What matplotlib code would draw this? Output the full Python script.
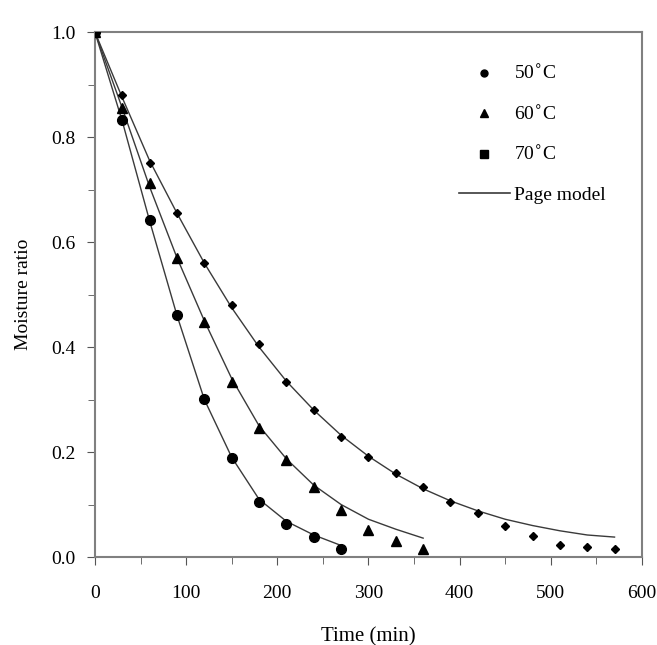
import matplotlib
matplotlib.use('Agg')
import matplotlib.pyplot as plt
from matplotlib.lines import Line2D
from matplotlib.ticker import MultipleLocator

plt.rcParams['font.family'] = ['Liberation Serif', 'DejaVu Serif']

# measured points (every 30 min)
t50 = [0, 30, 60, 90, 120, 150, 180, 210, 240, 270, 300, 330, 360, 390, 420, 450, 480, 510, 540, 570]
mr50 = [1.0, 0.88, 0.75, 0.655, 0.56, 0.48, 0.405, 0.334, 0.28, 0.229, 0.19, 0.16, 0.133, 0.105, 0.083, 0.059, 0.040, 0.022, 0.019, 0.016]

t60 = [0, 30, 60, 90, 120, 150, 180, 210, 240, 270, 300, 330, 360]
mr60 = [1.0, 0.855, 0.712, 0.57, 0.448, 0.334, 0.245, 0.185, 0.134, 0.09, 0.051, 0.03, 0.016]

t70 = [0, 30, 60, 90, 120, 150, 180, 210, 240, 270]
mr70 = [1.0, 0.832, 0.642, 0.461, 0.302, 0.188, 0.105, 0.063, 0.038, 0.015]

# Page model curves
m50 = [1.0, 0.875, 0.755, 0.655, 0.56, 0.475, 0.40, 0.335, 0.28, 0.232, 0.192, 0.158, 0.13, 0.107, 0.088, 0.072, 0.06, 0.05, 0.042, 0.038]
m60 = [1.0, 0.855, 0.705, 0.57, 0.45, 0.34, 0.25, 0.187, 0.137, 0.1, 0.072, 0.053, 0.036]
m70 = [1.0, 0.83, 0.64, 0.46, 0.30, 0.19, 0.11, 0.068, 0.042, 0.022]

labels = ['50$^{\\circ}$C', '60$^{\\circ}$C', '70$^{\\circ}$C', 'Page model']

fig = plt.figure(figsize=(6.57, 6.45), dpi=100)
ax = fig.add_axes([0.1446, 0.1364, 0.8324, 0.8136])

lc = '#3a3a3a'
ax.plot(t50, m50, color=lc, lw=1.0, zorder=2)
ax.plot(t60, m60, color=lc, lw=1.0, zorder=2)
ax.plot(t70, m70, color=lc, lw=1.0, zorder=2)

ax.plot(t50, mr50, 'D', ms=4.5, color='black', ls='none', zorder=3)
ax.plot(t60, mr60, '^', ms=6.5, color='black', ls='none', zorder=3)
ax.plot(t70, mr70, 'o', ms=7, color='black', ls='none', zorder=3)

ax.set_xlim(0, 600)
ax.set_ylim(0, 1.0)
ax.xaxis.set_major_locator(MultipleLocator(100))
ax.xaxis.set_minor_locator(MultipleLocator(50))
ax.yaxis.set_major_locator(MultipleLocator(0.2))
ax.yaxis.set_minor_locator(MultipleLocator(0.1))
ax.set_yticklabels(['%.1f' % v for v in ax.get_yticks()])

for s in ax.spines.values():
    s.set_color('#808080')
    s.set_linewidth(1.5)
ax.tick_params(which='both', direction='out', color='#555555', labelsize=14, pad=8)
ax.tick_params(which='major', length=6)
ax.tick_params(which='minor', length=5)
ax.tick_params(axis='x', pad=14)

ax.set_xlabel('Time (min)', fontsize=15, labelpad=18)
ax.set_ylabel('Moisture ratio', fontsize=14, labelpad=14)

handles = [
    Line2D([], [], marker='o', ms=5, color='black', ls='none'),
    Line2D([], [], marker='^', ms=6, color='black', ls='none'),
    Line2D([], [], marker='s', ms=5.5, color='black', ls='none'),
    Line2D([], [], color=lc, lw=1.2),
]
ax.legend(handles, labels, loc='upper right', frameon=False, fontsize=14,
          handlelength=2.6, handletextpad=0.2, borderaxespad=0.5,
          labelspacing=1.1, bbox_to_anchor=(0.965, 0.972))

plt.savefig('out.png', dpi=100)
